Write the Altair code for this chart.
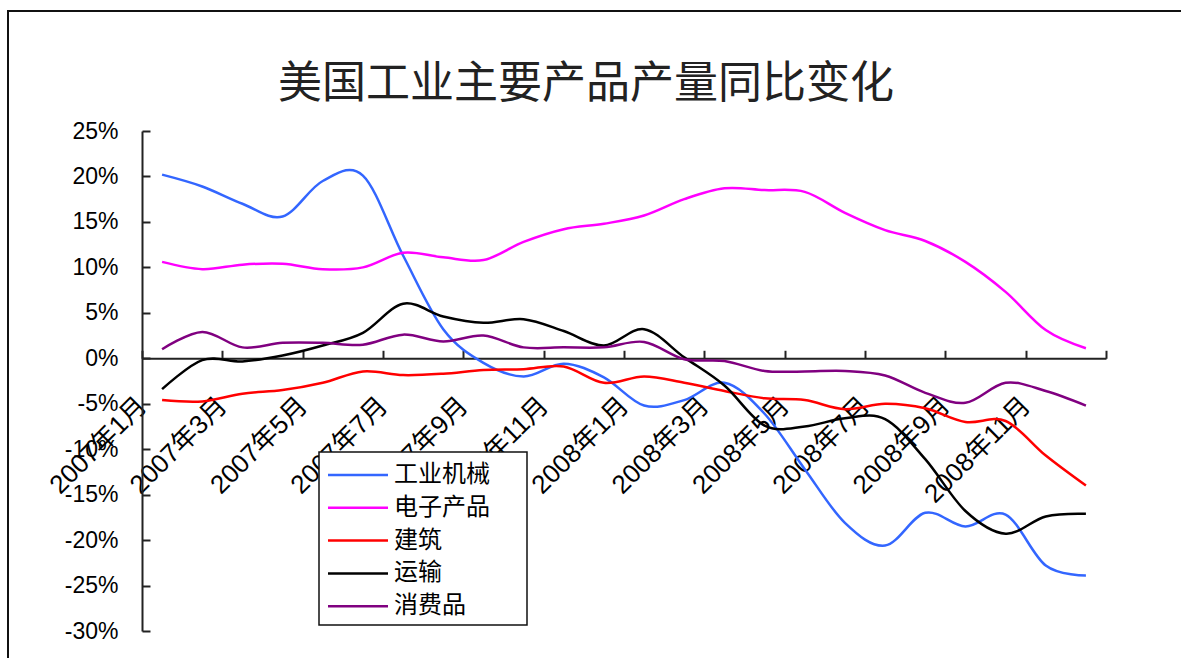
import json
import altair as alt
import pandas as pd

# ---------------- data ----------------
chart_title = "美国工业主要产品产量同比变化"
months = [f"{y}年{m}月" for y in (2007, 2008) for m in range(1, 13)]
series_names = ["工业机械", "电子产品", "建筑", "运输", "消费品"]
series_colors = ["#3366FF", "#FF00FF", "#FF0000", "#000000", "#800080"]

machinery = [20.2, 18.9, 17.0, 15.6, 19.5, 20.1, 11.3, 3.2, -0.5, -2.0, -0.6, -2.1,
             -5.2, -4.6, -2.7, -6.1, -12.2, -18.1, -20.6, -17.0, -18.5, -17.2, -22.8, -23.9]
electronics = [10.6, 9.8, 10.3, 10.4, 9.8, 10.0, 11.6, 11.1, 10.8, 12.8, 14.2, 14.8,
               15.7, 17.5, 18.7, 18.5, 18.3, 16.0, 14.1, 12.9, 10.6, 7.3, 3.1, 1.1]
construction = [-4.6, -4.75, -3.9, -3.5, -2.7, -1.45, -1.85, -1.7, -1.3, -1.2, -0.9, -2.7,
                -2.0, -2.7, -3.6, -4.4, -4.6, -5.6, -5.0, -5.5, -7.0, -6.9, -10.7, -14.0]
transport = [-3.4, -0.2, -0.35, 0.3, 1.4, 2.8, 6.0, 4.6, 3.9, 4.3, 3.0, 1.4,
             3.2, 0.1, -3.0, -7.4, -7.5, -6.6, -6.7, -11.1, -16.8, -19.3, -17.4, -17.1]
consumer = [1.0, 2.9, 1.2, 1.7, 1.7, 1.5, 2.6, 1.85, 2.5, 1.2, 1.2, 1.2,
            1.8, -0.1, -0.3, -1.4, -1.45, -1.4, -1.9, -3.8, -4.9, -2.7, -3.6, -5.2]

all_series = [machinery, electronics, construction, transport, consumer]

rows = []
for name, vals in zip(series_names, all_series):
    for i, v in enumerate(vals):
        rows.append({"series": name, "idx": i, "pos": i + 0.5, "value": v})
df = pd.DataFrame(rows)
leg_df = pd.DataFrame({"series": series_names, "k": list(range(len(series_names)))})
title_df = pd.DataFrame({"t": [chart_title]})

# ---------------- layout constants ----------------
W, H = 964, 500
YMIN, YMAX = -30, 25
zero_from_top = H * YMAX / (YMAX - YMIN)
zero_from_bottom = H - zero_from_top

FONT = "Liberation Sans, Noto Sans CJK SC"
CJK = "Noto Sans CJK SC"
AX = "#222222"

xscale = alt.Scale(domain=[0, len(months)], nice=False, zero=False)
yscale = alt.Scale(domain=[YMIN, YMAX], nice=False, zero=False)
cscale = alt.Scale(domain=series_names, range=series_colors)

month_js = json.dumps(months, ensure_ascii=False)

lines = alt.Chart(df).mark_line(interpolate="cardinal", strokeWidth=2.5).encode(
    x=alt.X("pos:Q", scale=xscale, axis=alt.Axis(
        orient="bottom", offset=-zero_from_bottom, values=list(range(0, len(months), 2)),
        labelExpr=f"{month_js}[datum.value]", labelAngle=-45, labelAlign="right",
        labelBaseline="middle", labelPadding=43, labelFontSize=26, labelFont=FONT,
        labelColor="#000000", labelOverlap=False, labelFlush=False, labelBound=False,
        ticks=False, tickSize=0, domain=True, domainColor=AX, domainWidth=2,
        grid=False, title=None)),
    y=alt.Y("value:Q", scale=yscale, axis=alt.Axis(
        values=list(range(YMIN, YMAX + 1, 5)), labelExpr="datum.value + '%'",
        labelPadding=24, labelFontSize=23, labelFont=FONT, labelColor="#000000",
        ticks=False, tickSize=0, domain=True, domainColor=AX, domainWidth=2,
        grid=False, title=None, labelOverlap=False, labelFlush=False)),
    color=alt.Color("series:N", scale=cscale, legend=None),
    order=alt.Order("idx:Q"),
)

tick_layer = alt.Chart(df).mark_line(opacity=0).encode(
    x=alt.X("pos:Q", scale=xscale, axis=alt.Axis(
        orient="top", offset=-zero_from_top, values=list(range(0, len(months) + 1, 2)),
        labels=False, ticks=True, tickSize=8, tickColor=AX, tickWidth=2,
        domain=False, grid=False, title=None)),
    y=alt.Y("value:Q", scale=yscale, axis=alt.Axis(
        orient="right", offset=-W, values=list(range(YMIN, YMAX + 1, 5)),
        labels=False, ticks=True, tickSize=8, tickColor=AX, tickWidth=2,
        domain=False, grid=False, title=None)),
)

# legend (drawn by hand so the line samples can be long)
leg_box = alt.Chart(leg_df).transform_filter("datum.k == 0").mark_rect(
    fill="white", stroke="#111111", strokeWidth=1.5).encode(
    x=alt.value(177), x2=alt.value(385), y=alt.value(321), y2=alt.value(494))

leg_base = alt.Chart(leg_df).transform_calculate(ly="344 + 32.8*datum.k")
leg_lines = leg_base.mark_rule(strokeWidth=2.5).encode(
    x=alt.value(186), x2=alt.value(246),
    y=alt.Y("ly:Q", scale=None, axis=None),
    color=alt.Color("series:N", scale=cscale, legend=None))
leg_text = leg_base.mark_text(align="left", baseline="middle", fontSize=24, font=CJK,
                              color="#000000").encode(
    x=alt.value(252), y=alt.Y("ly:Q", scale=None, axis=None), text="series:N")

frame = alt.Chart(leg_df).transform_filter("datum.k == 0").mark_rect(
    fillOpacity=0, stroke="#111111", strokeWidth=2).encode(
    x=alt.value(-134), x2=alt.value(1200), y=alt.value(-120), y2=alt.value(700))

title_mark = alt.Chart(title_df).mark_text(
    fontSize=44, font=CJK, fontWeight="normal", color="#222222",
    align="center", baseline="middle").encode(
    x=alt.value(444), y=alt.value(-46), text="t:N")

chart = alt.layer(lines, tick_layer, leg_box, leg_lines, leg_text, frame, title_mark).resolve_scale(
    y="independent").resolve_axis(x="independent", y="independent").properties(
    width=W, height=H,
    background="white",
    padding={"left": 142, "top": 131, "right": 75, "bottom": 27},
    autosize=alt.AutoSizeParams(type="none"),
).configure_view(stroke=None)

chart.save("out.html", embed_options={"renderer": "svg", "actions": False})
